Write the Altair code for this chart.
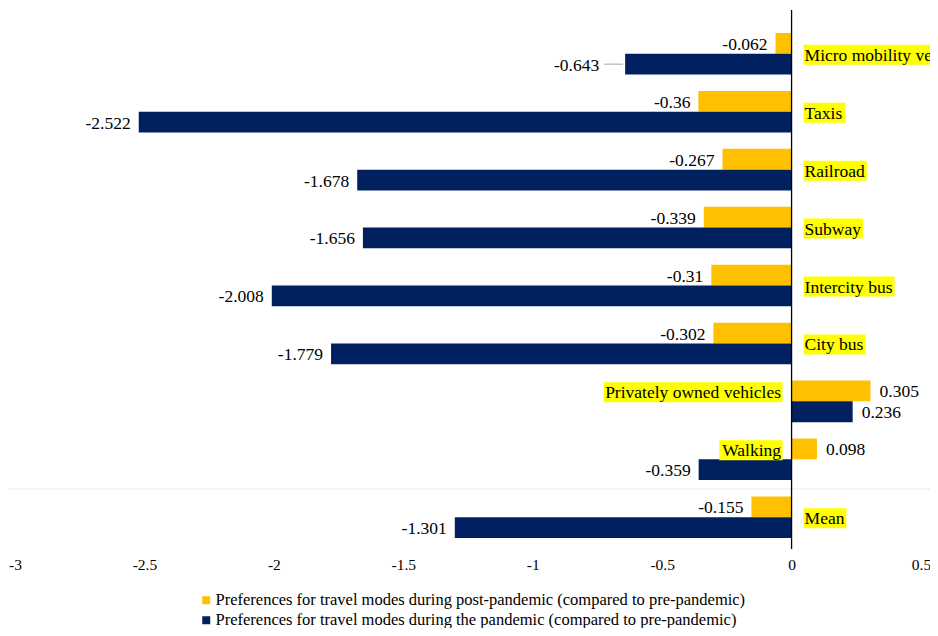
import altair as alt
import pandas as pd

categories = ["Micro mobility vehicles", "Taxis", "Railroad", "Subway", "Intercity bus",
              "City bus", "Privately owned vehicles", "Walking", "Mean"]
post_values = [-0.062, -0.36, -0.267, -0.339, -0.31, -0.302, 0.305, 0.098, -0.155]
pandemic_values = [-0.643, -2.522, -1.678, -1.656, -2.008, -1.779, 0.236, -0.359, -1.301]
series_names = ["Preferences for travel modes during post-pandemic (compared to pre-pandemic)",
                "Preferences for travel modes during the pandemic (compared to pre-pandemic)"]
x_ticks = [-3, -2.5, -2, -1.5, -1, -0.5, 0, 0.5]

YELLOW = "#FFC000"
NAVY = "#002060"
HILITE = "#FFFF00"
FONT = "Liberation Serif"
W, H = 906, 523
PPU = W / 3.5
CAT_SIZE = 17.5
VAL_SIZE = 17.5

# Times/Liberation Serif advance widths (per 1000 em)
TIMES = {"M": 889, "i": 278, "c": 444, "r": 333, "o": 500, " ": 250, "m": 778, "b": 500,
         "l": 278, "t": 278, "y": 500, "v": 500, "h": 500, "e": 444, "s": 389, "T": 611,
         "a": 444, "x": 500, "R": 667, "d": 500, "S": 556, "u": 500, "w": 722, "I": 333,
         "n": 500, "C": 667, "P": 556, "W": 944, "k": 500, "g": 500}


def text_width(s, size):
    return sum(TIMES.get(ch, 500) for ch in s) / 1000 * size


rows = []
for c, p, q in zip(categories, post_values, pandemic_values):
    rows.append({"category": c, "series": series_names[0], "value": p, "label": str(p),
                 "leader": False})
    rows.append({"category": c, "series": series_names[1], "value": q, "label": str(q),
                 "leader": c == categories[0]})
bars_df = pd.DataFrame(rows)

lab_rows = []
for c, p in zip(categories, post_values):
    w = text_width(c, CAT_SIZE) + 3
    if p > 0:
        lab_rows.append({"category": c, "side": "left", "bx": -(9 + w) / PPU, "bx2": -9 / PPU})
    else:
        lab_rows.append({"category": c, "side": "right", "bx": 12 / PPU, "bx2": (12 + w) / PPU})
lab_df = pd.DataFrame(lab_rows)

x_scale = alt.Scale(domain=[-3, 0.5], nice=False, zero=False)
x_axis = alt.Axis(values=x_ticks, labelExpr="'' + datum.value", domain=False,
                  ticks=False, grid=False, labelFont=FONT, labelFontSize=15.5,
                  labelColor="black", labelPadding=10, labelFlush=False, title=None)
y_scale = alt.Scale(domain=categories, paddingInner=0.283, paddingOuter=0.155)
y_enc = alt.Y("category:N", axis=None, scale=y_scale)
yoff_enc = alt.YOffset("series:N", scale=alt.Scale(domain=series_names))


def xq(field):
    return alt.X(field, scale=x_scale, axis=x_axis)


x_zero = alt.datum(0, scale=x_scale, axis=x_axis)

bars = alt.Chart(bars_df).mark_bar().encode(
    x=xq("value:Q"),
    x2=alt.datum(0),
    y=y_enc,
    yOffset=yoff_enc,
    color=alt.Color("series:N",
                    scale=alt.Scale(domain=series_names, range=[YELLOW, NAVY]),
                    legend=alt.Legend(title=None, orient="none", legendX=183, legendY=568,
                                      direction="vertical", symbolType="square",
                                      symbolSize=64, symbolStrokeWidth=0, labelFont=FONT,
                                      labelFontSize=16.5, labelColor="black", labelLimit=900,
                                      rowPadding=3, labelOffset=1, padding=0)),
)

neg_labels = alt.Chart(bars_df).transform_filter(
    "datum.value < 0 && !datum.leader"
).mark_text(align="right", baseline="middle", dx=-8, dy=1.5, font=FONT,
            fontSize=VAL_SIZE, color="black").encode(
    x=xq("value:Q"), y=y_enc, yOffset=yoff_enc, text="label:N")

lead_labels = alt.Chart(bars_df).transform_filter(
    "datum.leader"
).mark_text(align="right", baseline="middle", dx=-26, dy=1.5, font=FONT,
            fontSize=VAL_SIZE, color="black").encode(
    x=xq("value:Q"), y=y_enc, yOffset=yoff_enc, text="label:N")

lead_lines = alt.Chart(bars_df).transform_filter(
    "datum.leader"
).mark_rule(color="#a6a6a6", strokeWidth=1, xOffset=-21, x2Offset=-2).encode(
    x=xq("value:Q"), x2="value:Q", y=y_enc, yOffset=yoff_enc)

pos_labels = alt.Chart(bars_df).transform_filter(
    "datum.value >= 0"
).mark_text(align="left", baseline="middle", dx=9, dy=1.5, font=FONT,
            fontSize=VAL_SIZE, color="black").encode(
    x=xq("value:Q"), y=y_enc, yOffset=yoff_enc, text="label:N")

box_right = alt.Chart(lab_df).transform_filter("datum.side == 'right'").mark_bar(
    color=HILITE, size=20, yOffset=1).encode(
    x=xq("bx:Q"), x2="bx2:Q", y=y_enc)
box_left = alt.Chart(lab_df).transform_filter("datum.side == 'left'").mark_bar(
    color=HILITE, size=20, yOffset=-9).encode(
    x=xq("bx:Q"), x2="bx2:Q", y=y_enc)

cat_right = alt.Chart(lab_df).transform_filter("datum.side == 'right'").mark_text(
    align="left", baseline="middle", dx=13, dy=2, font=FONT, fontSize=CAT_SIZE,
    color="black").encode(x=x_zero, y=y_enc, text="category:N")
cat_left = alt.Chart(lab_df).transform_filter("datum.side == 'left'").mark_text(
    align="right", baseline="middle", dx=-10.5, dy=-8, font=FONT, fontSize=CAT_SIZE,
    color="black").encode(x=x_zero, y=y_enc, text="category:N")

zero_line = alt.Chart(lab_df.head(1)).mark_rule(color="black", strokeWidth=1.3).encode(
    x=x_zero, y=alt.value(-14), y2=alt.value(H + 2))

sep_df = pd.DataFrame({"category": [categories[-1]]})
separator = alt.Chart(sep_df).mark_rule(color="#e3e3e3", strokeWidth=1, yOffset=-7.5,
                                        strokeDash=[3, 1]).encode(
    y=alt.Y("category:N", axis=None, bandPosition=0, scale=y_scale),
    x=alt.value(-7), x2=alt.value(W + 14))

chart = alt.layer(
    separator, bars, zero_line, lead_lines, neg_labels, lead_labels, pos_labels,
    box_right, box_left, cat_right, cat_left
).properties(
    width=W, height=H,
    autosize=alt.AutoSizeParams(type="none"),
    padding={"left": 7, "right": 9, "top": 16, "bottom": 81},
).configure_view(stroke=None).configure_axis(
    labelFont=FONT, labelFontSize=15.5, labelColor="black"
).configure_axisX(
    labelFont=FONT
).resolve_scale(x="shared", y="shared")

chart.save("out.html", embed_options={"renderer": "svg", "actions": False})
